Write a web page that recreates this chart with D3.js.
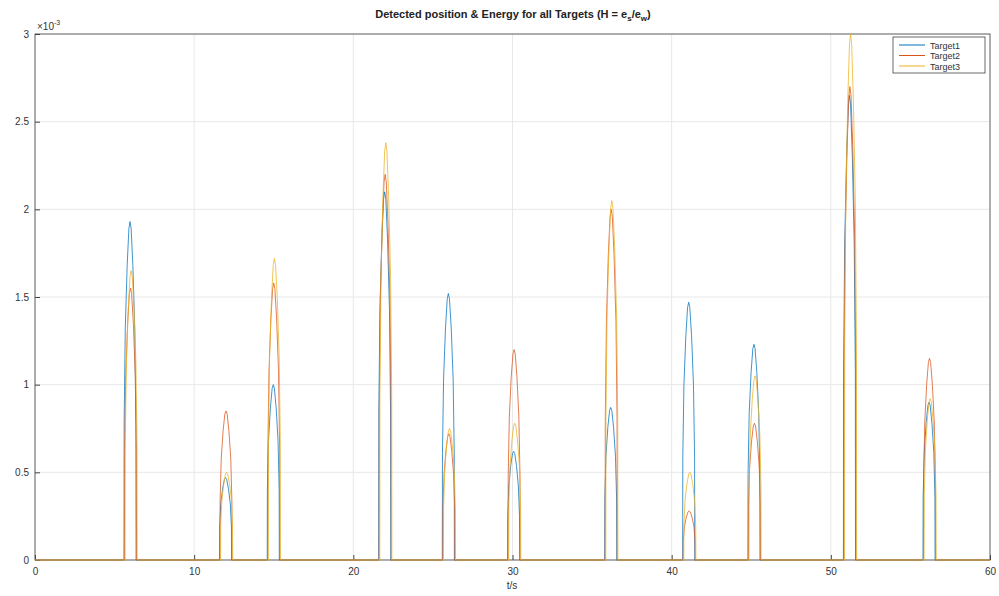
<!DOCTYPE html>
<html>
<head>
<meta charset="utf-8">
<script src="https://cdn.jsdelivr.net/npm/d3@7"></script>
<style>
body { margin: 0; background: #fff; }
svg { font-family: "Liberation Sans", Arial, sans-serif; }
.grid line { stroke: #e8e8e8; }
.axis text { fill: #333; font-size: 10px; }
.axis path, .axis line { stroke: #444; }
</style>
</head>
<body>
<svg width="999" height="596"></svg>
<script>
// peak times (s) and energy of each target (x 1e-3)
var peakTimes = [6, 12, 15, 22, 26, 30.1, 36.2, 41.1, 45.2, 51.2, 56.2];
var target1 = [1.93, 0.47, 1.0, 2.1, 1.52, 0.62, 0.87, 1.47, 1.23, 2.65, 0.9];
var target2 = [1.55, 0.85, 1.58, 2.2, 0.72, 1.2, 2.0, 0.28, 0.78, 2.7, 1.15];
var target3 = [1.65, 0.5, 1.72, 2.38, 0.75, 0.78, 2.05, 0.5, 1.05, 3.0, 0.92];
var seriesNames = ["Target1", "Target2", "Target3"];
var colors = ["#0072BD", "#D95319", "#EDB120"];
var xTicks = [0, 10, 20, 30, 40, 50, 60];
var yTicks = [0, 0.5, 1, 1.5, 2, 2.5, 3];

var svg = d3.select("svg");
var plotLeft = 35, plotTop = 34, plotRight = 990, plotBottom = 560;

var xScale = d3.scaleLinear().domain([0, 60]).range([plotLeft, plotRight]);
var yScale = d3.scaleLinear().domain([0, 3]).range([plotBottom, plotTop]);

// grid
svg.append("g").attr("class", "grid")
  .selectAll("line").data(xTicks).enter().append("line")
  .attr("x1", d => xScale(d)).attr("x2", d => xScale(d))
  .attr("y1", plotTop).attr("y2", plotBottom);
svg.append("g").attr("class", "grid")
  .selectAll("line").data(yTicks).enter().append("line")
  .attr("y1", d => yScale(d)).attr("y2", d => yScale(d))
  .attr("x1", plotLeft).attr("x2", plotRight);

// box
svg.append("rect")
  .attr("x", plotLeft).attr("y", plotTop)
  .attr("width", plotRight - plotLeft).attr("height", plotBottom - plotTop)
  .attr("fill", "none").attr("stroke", "#444").attr("stroke-width", 0.8);

svg.append("g")
  .attr("class", "axis")
  .attr("transform", "translate(0," + plotBottom + ")")
  .call(d3.axisBottom(xScale).tickValues(xTicks).tickSize(-5).tickPadding(8).tickFormat(d3.format("d")))
  .call(g => g.select(".domain").remove());

svg.append("g")
  .attr("class", "axis")
  .attr("transform", "translate(" + plotLeft + ",0)")
  .call(d3.axisLeft(yScale).tickValues(yTicks).tickSize(-5).tickPadding(6).tickFormat(d => d))
  .call(g => g.select(".domain").remove());

// exponent
var ex = svg.append("text").attr("x", plotLeft + 2).attr("y", plotTop - 4)
  .attr("font-size", 10).attr("fill", "#333");
ex.append("tspan").text("\u00d710");
ex.append("tspan").attr("dy", -5).attr("font-size", 7).text("-3");

// pulse outline of one peak, drawn from its time and height
function pulse(c, h) {
  return [[c - 0.38, 0], [c - 0.37, 0.4 * h], [c - 0.3, 0.68 * h], [c - 0.18, 0.87 * h], [c - 0.07, 0.98 * h], [c, h],
          [c + 0.07, 0.98 * h], [c + 0.18, 0.87 * h], [c + 0.3, 0.68 * h], [c + 0.37, 0.4 * h], [c + 0.38, 0]];
}

var line = d3.line().x(d => xScale(d[0])).y(d => yScale(d[1]));
var allSeries = [target1, target2, target3];
var offsets = [-0.03, 0, 0.04];

allSeries.forEach(function(vals, k) {
  var pts = [[0, 0]];
  peakTimes.forEach(function(t, i) {
    pts = pts.concat(pulse(t + offsets[k], vals[i]));
  });
  pts.push([60, 0]);
  svg.append("path")
    .datum(pts)
    .attr("d", line)
    .attr("fill", "none")
    .attr("stroke", colors[k])
    .attr("stroke-width", 1)
    .attr("stroke-opacity", 0.75);
});

// title
var title = svg.append("text").attr("x", 513).attr("y", 18)
  .attr("text-anchor", "middle").attr("font-size", 11).attr("font-weight", "bold").attr("fill", "#222");
title.append("tspan").text("Detected position & Energy for all Targets (H = e");
title.append("tspan").attr("dy", 3).attr("font-size", 8).text("s");
title.append("tspan").attr("dy", -3).text("/e");
title.append("tspan").attr("dy", 3).attr("font-size", 8).text("w");
title.append("tspan").attr("dy", -3).text(")");

// x label
svg.append("text").attr("x", 512).attr("y", 589).attr("text-anchor", "middle")
  .attr("font-size", 10).attr("fill", "#333").text("t/s");

// legend
var lg = svg.append("g").attr("transform", "translate(893,37)");
lg.append("rect").attr("width", 92).attr("height", 36)
  .attr("fill", "#fff").attr("stroke", "#444").attr("stroke-width", 0.8);
seriesNames.forEach(function(name, i) {
  lg.append("line").attr("x1", 6).attr("x2", 32)
    .attr("y1", 8 + i * 10.5).attr("y2", 8 + i * 10.5)
    .attr("stroke", colors[i]).attr("stroke-width", 1);
  lg.append("text").attr("x", 37).attr("y", 11.5 + i * 10.5)
    .attr("font-size", 9).attr("fill", "#333").text(name);
});
</script>
</body>
</html>
